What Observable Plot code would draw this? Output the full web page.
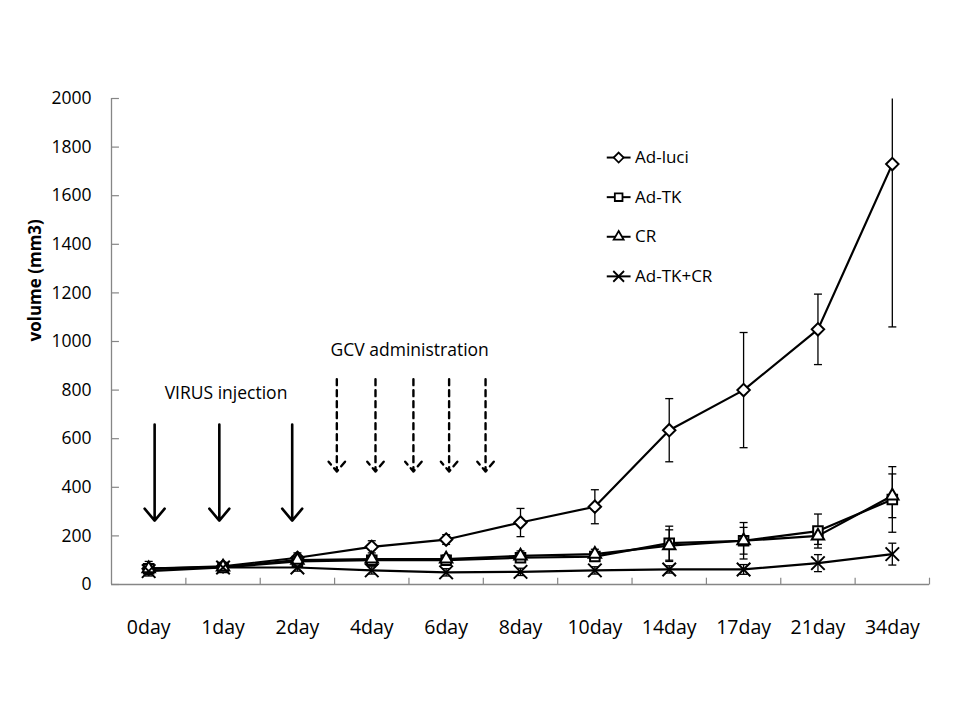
<!DOCTYPE html>
<html>
<head>
<meta charset="utf-8">
<script src="https://cdn.jsdelivr.net/npm/d3@7"></script>
<script src="https://cdn.jsdelivr.net/npm/@observablehq/plot@0.6"></script>
<style>
  html, body { margin: 0; padding: 0; background: #fff; }
  #chart svg { display: block; }
</style>
</head>
<body>
<div id="chart"></div>
<script>
// ---- data ----
const days = ["0day","1day","2day","4day","6day","8day","10day","14day","17day","21day","34day"];
const seriesNames = ["Ad-luci", "Ad-TK", "CR", "Ad-TK+CR"];
const adLuci    = [65, 75, 110, 155, 185, 255, 320, 635, 800, 1050, 1730];
const adLuciErr = [30, 15, 20, 25, 20, 58, 70, 130, 237, 145, 670];
const adTK      = [65, 70, 95, 100, 100, 110, 115, 170, 180, 220, 350];
const adTKErr   = [20, 10, 15, 15, 20, 15, 15, 70, 75, 70, 135];
const cr        = [65, 72, 100, 105, 105, 118, 125, 160, 180, 200, 365];
const crErr     = [20, 10, 20, 15, 15, 20, 20, 65, 55, 35, 90];
const adTKCR    = [55, 70, 70, 58, 50, 52, 58, 62, 62, 88, 125];
const adTKCRErr = [15, 10, 15, 15, 15, 15, 15, 15, 20, 35, 45];
const yTicks = [0, 200, 400, 600, 800, 1000, 1200, 1400, 1600, 1800, 2000];
// annotation arrows (x in category-index units, y in mm3)
const virusArrowX = [0.08, 0.95, 1.93];
const gcvArrowX   = [2.53, 3.05, 3.56, 4.04, 4.53];
const annotations = [
  {text: "VIRUS injection", x: 1.04, y: 786},
  {text: "GCV administration", x: 3.51, y: 963}
];

const values = [adLuci, adTK, cr, adTKCR];
const errors = [adLuciErr, adTKErr, crErr, adTKCRErr];
const symbols = ["diamond2", "square", "triangle", "times"];
const radii = [5.6, 5.4, 4.6, 6.2];
const yMax = 2000;

const rows = [];
seriesNames.forEach((s, k) => {
  values[k].forEach((v, i) => {
    const e = errors[k][i];
    rows.push({series: s, k, i, v, lo: Math.max(0, v - e), hi: Math.min(yMax, v + e)});
  });
});
const caps = rows.flatMap(d => [{...d, y: d.lo}, {...d, y: d.hi}].filter(c => !(c.y === yMax && d.v + errors[d.k][d.i] > yMax)));

// horizontal line symbol for error caps
const capSymbol = {draw(ctx, size) { const r = Math.sqrt(size / Math.PI); ctx.moveTo(-r, 0); ctx.lineTo(r, 0); }};

// legend rows (layout in data space)
const legend = seriesNames.map((s, k) => ({s, k, y: 1757 - k * 163}));

const font = "'Open Sans', 'Noto Sans', sans-serif";
const axisGray = "#868686";

const chart = Plot.plot({
  width: 960,
  height: 720,
  marginLeft: 111,
  marginRight: 31,
  marginTop: 98,
  marginBottom: 136,
  style: {fontFamily: font, background: "#fff", color: "#000"},
  x: {domain: [-0.5, 10.5], axis: null},
  y: {domain: [0, 2000], axis: null},
  marks: [
    // axes lines
    Plot.ruleY([0], {stroke: axisGray, strokeWidth: 1.3}),
    Plot.ruleX([-0.5], {stroke: axisGray, strokeWidth: 1.3}),
    // y ticks (inside) and labels
    Plot.link(yTicks, {x1: -0.5, x2: -0.4, y1: d => d, y2: d => d, stroke: axisGray, strokeWidth: 1.2}),
    Plot.text(yTicks, {x: -0.5, y: d => d, text: d => String(d), textAnchor: "end", dx: -20, fontSize: 17.5, fill: "#000"}),
    // x ticks at category boundaries (inside) and labels
    Plot.link(d3.range(1, 12), {x1: d => d - 0.5, x2: d => d - 0.5, y1: 0, y2: 28, stroke: axisGray, strokeWidth: 1.2}),
    Plot.text(days, {x: (d, i) => i, y: 0, text: d => d, dy: 43, fontSize: 19.5, fill: "#000"}),
    // y axis label
    Plot.text(["volume (mm3)"], {frameAnchor: "left", dx: -76, rotate: -90, fontSize: 17, fontWeight: "bold", fill: "#000"}),
    // annotations
    Plot.text(annotations, {x: "x", y: "y", text: "text", fontSize: 17.5, fill: "#000"}),
    Plot.arrow(virusArrowX, {x1: d => d, x2: d => d, y1: 658, y2: 263, stroke: "#000", strokeWidth: 2.6, headLength: 9, headAngle: 80}),
    Plot.arrow(gcvArrowX, {x1: d => d, x2: d => d, y1: 845, y2: 465, stroke: "#000", strokeWidth: 2.4, strokeDasharray: "6,5", headLength: 8, headAngle: 80}),
    // error bars
    Plot.link(rows, {x1: "i", x2: "i", y1: "lo", y2: "hi", stroke: "#000", strokeWidth: 1.3}),
    Plot.dot(caps, {x: "i", y: "y", symbol: () => capSymbol, r: 4, stroke: "#000", strokeWidth: 1.3, fill: "none"}),
    // lines
    Plot.line(rows, {x: "i", y: "v", z: "series", stroke: "#000", strokeWidth: 2.2}),
    // markers
    ...seriesNames.map((s, k) => Plot.dot(rows.filter(d => d.k === k), {
      x: "i", y: "v", symbol: symbols[k], r: radii[k],
      fill: k === 3 ? "none" : "#fff", stroke: "#000", strokeWidth: 2
    })),
    // legend
    Plot.link(legend, {x1: 6.16, x2: 6.48, y1: "y", y2: "y", stroke: "#000", strokeWidth: 2}),
    ...seriesNames.map((s, k) => Plot.dot(legend.filter(d => d.k === k), {
      x: 6.32, y: "y", symbol: symbols[k], r: radii[k] * 0.8,
      fill: k === 3 ? "none" : "#fff", stroke: "#000", strokeWidth: 1.8
    })),
    Plot.text(legend, {x: 6.54, y: "y", text: "s", textAnchor: "start", fontSize: 17, fill: "#000"})
  ]
});
document.getElementById("chart").appendChild(chart);
</script>
</body>
</html>
